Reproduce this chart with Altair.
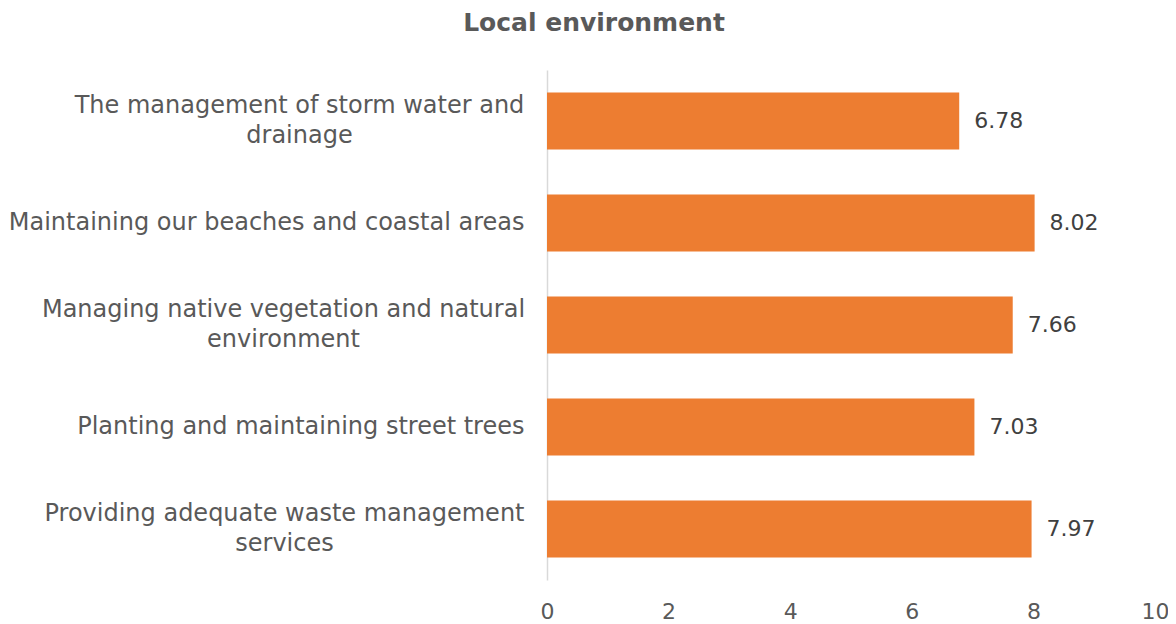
import altair as alt
import pandas as pd

categories = [
    "The management of storm water and|drainage",
    "Maintaining our beaches and coastal areas",
    "Managing native vegetation and natural|environment",
    "Planting and maintaining street trees",
    "Providing adequate waste management|services",
]
values = [6.78, 8.02, 7.66, 7.03, 7.97]

df = pd.DataFrame({"item": categories, "score": values})

FONT = "DejaVu Sans"
MULTI = "indexof(datum.value, '|') >= 0"

base = alt.Chart(df).encode(
    y=alt.Y(
        "item:N",
        sort=categories,
        title=None,
        scale=alt.Scale(paddingInner=0.44, paddingOuter=0.22),
        axis=alt.Axis(
            labelExpr="split(datum.label, '|')",
            labelFont=FONT,
            labelFontSize=24,
            labelFontWeight="normal",
            labelColor="#595959",
            labelLimit=700,
            labelLineHeight=30,
            labelAlign={"condition": {"test": MULTI, "value": "center"}, "value": "right"},
            labelPadding={
                "condition": [
                    {"test": "indexof(datum.value, 'storm') >= 0", "value": 248},
                    {"test": "indexof(datum.value, 'vegetation') >= 0", "value": 264},
                    {"test": "indexof(datum.value, 'waste') >= 0", "value": 263},
                ],
                "value": 23,
            },
            labelOffset={"condition": {"test": MULTI, "value": -15}, "value": 0},
            ticks=False,
            domainColor="#D9D9D9",
            domainWidth=1.5,
        ),
    ),
    x=alt.X(
        "score:Q",
        title=None,
        scale=alt.Scale(domain=[0, 10]),
        axis=alt.Axis(
            values=[0, 2, 4, 6, 8, 10],
            labelFont=FONT,
            labelFontSize=22,
            labelFontWeight="normal",
            labelColor="#595959",
            labelPadding=21,
            labelFlush=False,
            ticks=False,
            domain=False,
            grid=False,
        ),
    ),
)

bars = base.mark_bar(color="#ED7D31")
text = base.mark_text(
    align="left", baseline="middle", dx=15, font=FONT, fontSize=22,
    fontWeight="normal", color="#404040"
).encode(text=alt.Text("score:Q", format=".2f"))

chart = (
    (bars + text)
    .properties(
        width=608,
        height=510,
        autosize=alt.AutoSizeParams(type="none"),
        padding={"left": 539, "top": 62, "right": 13, "bottom": 44},
        title=alt.TitleParams(
            "Local environment",
            font=FONT,
            fontSize=25,
            fontWeight="bold",
            color="#595959",
            anchor="middle",
            dx=-257,
            offset=34,
        ),
    )
    .configure_view(stroke=None)
)

chart.save("out.html", embed_options={"renderer": "svg", "actions": False})
